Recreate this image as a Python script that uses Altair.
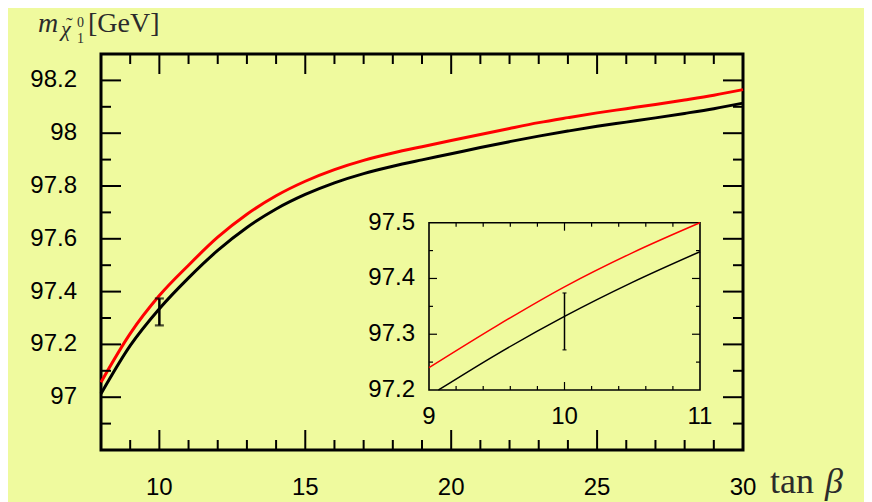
import altair as alt
import pandas as pd

# ---------------- data ----------------
tan_beta = [8, 9, 10, 11, 12, 13, 14, 15, 16, 17, 18, 19, 20, 21, 22, 23, 24, 25, 26, 27, 28, 29, 30]
m_black = [97.013, 97.195, 97.335, 97.452, 97.556, 97.643, 97.713, 97.768, 97.812, 97.847, 97.875,
           97.899, 97.922, 97.946, 97.968, 97.989, 98.008, 98.026, 98.042, 98.058, 98.075, 98.093, 98.114]
m_red = [97.057, 97.241, 97.385, 97.500, 97.606, 97.693, 97.763, 97.818, 97.862, 97.897, 97.925,
         97.949, 97.972, 97.995, 98.018, 98.040, 98.059, 98.077, 98.093, 98.109, 98.126, 98.144, 98.165]

inset_x_black = [9.07, 9.5, 10, 10.5, 11]
inset_black = [97.2, 97.264, 97.332, 97.393, 97.448]
inset_x_red = [9, 9.5, 10, 10.5, 11]
inset_red = [97.24, 97.315, 97.385, 97.446, 97.50]

err_x = [10]
err_lo = [97.272]
err_hi = [97.374]

main_x_domain = [8, 30]
main_y_domain = [96.8, 98.3]
main_x_labels = [10, 15, 20, 25, 30]
main_x_text = ["10", "15", "20", "25", "30"]
main_y_labels = [97, 97.2, 97.4, 97.6, 97.8, 98, 98.2]
main_y_text = ["97", "97.2", "97.4", "97.6", "97.8", "98", "98.2"]
main_x_major = [10, 15, 20, 25]
main_x_minor = [9, 11, 12, 13, 14, 16, 17, 18, 19, 21, 22, 23, 24, 26, 27, 28, 29]
main_y_major = [97, 97.2, 97.4, 97.6, 97.8, 98, 98.2]
main_y_minor = [96.9, 97.1, 97.3, 97.5, 97.7, 97.9, 98.1]

inset_x_domain = [9, 11]
inset_y_domain = [97.2, 97.5]
inset_x_labels = [9, 10, 11]
inset_x_text = ["9", "10", "11"]
inset_y_labels = [97.2, 97.3, 97.4, 97.5]
inset_y_text = ["97.2", "97.3", "97.4", "97.5"]
inset_x_major = [10]
inset_x_minor = [9.2, 9.4, 9.6, 9.8, 10.2, 10.4, 10.6, 10.8]
inset_y_major = [97.3, 97.4]
inset_y_minor = [97.25, 97.35, 97.45]

# ---------------- layout (pixels) ----------------
W, H = 642, 396
IX0, IX1 = 328, 599          # inset x pixel range inside plot area
IYB, IYT = 336, 168.7        # inset y pixel range (bottom, top)
BG = "#effa9e"
FONT = "Liberation Sans"
SERIF = "Liberation Serif"

xs_main = alt.Scale(domain=main_x_domain, nice=False, zero=False)
ys_main = alt.Scale(domain=main_y_domain, nice=False, zero=False)
xs_in = alt.Scale(domain=inset_x_domain, range=[IX0, IX1], nice=False, zero=False)
ys_in = alt.Scale(domain=inset_y_domain, range=[IYB, IYT], nice=False, zero=False)


def X(field, sc):
    return alt.X(field, scale=sc, axis=None)


def Y(field, sc):
    return alt.Y(field, scale=sc, axis=None)


def xticks(vals, xs, base, length, width):
    df = pd.DataFrame({"v": vals})
    return alt.Chart(df).mark_rule(color="black", strokeWidth=width).encode(
        x=X("v:Q", xs), y=alt.value(base), y2=alt.value(base + length))


def yticks(vals, ys, base, length, width):
    df = pd.DataFrame({"v": vals})
    return alt.Chart(df).mark_rule(color="black", strokeWidth=width).encode(
        y=Y("v:Q", ys), x=alt.value(base), x2=alt.value(base + length))


def xlabels(vals, texts, xs, ypix):
    df = pd.DataFrame({"v": vals, "t": texts})
    return alt.Chart(df).mark_text(font=FONT, fontSize=24, color="black", align="center",
                                   baseline="top").encode(
        x=X("v:Q", xs), y=alt.value(ypix), text="t:N")


def ylabels(vals, texts, ys, xpix):
    df = pd.DataFrame({"v": vals, "t": texts})
    return alt.Chart(df).mark_text(font=FONT, fontSize=24, color="black", align="right",
                                   baseline="middle").encode(
        y=Y("v:Q", ys), x=alt.value(xpix), text="t:N")


def label(txt, x, y, size, style="normal", font=SERIF, color="#2b2b2b"):
    return alt.Chart(pd.DataFrame({"t": [txt]})).mark_text(
        font=font, fontSize=size, fontStyle=style, color=color, align="left",
        baseline="alphabetic").encode(text="t:N", x=alt.value(x), y=alt.value(y))


# ---------------- main panel ----------------
main_df = pd.DataFrame({"x": tan_beta, "black": m_black, "red": m_red})
err_df = pd.DataFrame({"x": err_x, "lo": err_lo, "hi": err_hi})

red_main = alt.Chart(main_df).mark_line(color="#ff0000", strokeWidth=3, interpolate="monotone").encode(
    x=X("x:Q", xs_main), y=Y("red:Q", ys_main))
black_main = alt.Chart(main_df).mark_line(color="black", strokeWidth=3, interpolate="monotone").encode(
    x=X("x:Q", xs_main), y=Y("black:Q", ys_main))
err_main = alt.Chart(err_df).mark_rule(color="black", strokeWidth=2.5).encode(
    x=X("x:Q", xs_main), y=Y("lo:Q", ys_main), y2="hi:Q")
cap_lo = alt.Chart(err_df).mark_tick(color="black", orient="horizontal", size=9, thickness=2.2).encode(
    x=X("x:Q", xs_main), y=Y("lo:Q", ys_main))
cap_hi = alt.Chart(err_df).mark_tick(color="black", orient="horizontal", size=9, thickness=2.2).encode(
    x=X("x:Q", xs_main), y=Y("hi:Q", ys_main))

main_ticks = [
    xticks(main_x_major, xs_main, H, -20, 2), xticks(main_x_minor, xs_main, H, -10, 2),
    xticks(main_x_major, xs_main, 0, 20, 2), xticks(main_x_minor, xs_main, 0, 10, 2),
    yticks(main_y_major, ys_main, 0, 20, 2), yticks(main_y_minor, ys_main, 0, 10, 2),
    yticks(main_y_major, ys_main, W, -20, 2), yticks(main_y_minor, ys_main, W, -10, 2),
]
main_labels = [
    xlabels(main_x_labels, main_x_text, xs_main, H + 26),
    ylabels(main_y_labels, main_y_text, ys_main, -24),
]

titles = [
    label("m", -63, -22, 28, "italic"),
    label("\u03c7", -40, -18, 22, "italic"),
    label("\u02dc", -35, -22, 20),
    label("0", -24, -27, 14),
    label("1", -24, -11, 14),
    label("[GeV]", -13, -22, 28),
    label("tan", 669, 439, 36),
    label("\u03b2", 724, 439, 36, "italic"),
]

main_layer = alt.layer(red_main, black_main, err_main, cap_lo, cap_hi,
                       *main_ticks, *main_labels, *titles)

# ---------------- inset ----------------
in_red_df = pd.DataFrame({"x": inset_x_red, "y": inset_red})
in_black_df = pd.DataFrame({"x": inset_x_black, "y": inset_black})
frame_df = pd.DataFrame({"x": [inset_x_domain[0]], "x2": [inset_x_domain[1]],
                         "y": [inset_y_domain[0]], "y2": [inset_y_domain[1]]})

in_frame = alt.Chart(frame_df).mark_rect(fillOpacity=0, stroke="black", strokeWidth=1.6).encode(
    x=X("x:Q", xs_in), x2="x2:Q", y=Y("y:Q", ys_in), y2="y2:Q")
in_red = alt.Chart(in_red_df).mark_line(color="#ff0000", strokeWidth=1.5, interpolate="monotone").encode(
    x=X("x:Q", xs_in), y=Y("y:Q", ys_in))
in_black = alt.Chart(in_black_df).mark_line(color="black", strokeWidth=1.5, interpolate="monotone").encode(
    x=X("x:Q", xs_in), y=Y("y:Q", ys_in))
in_err = alt.Chart(err_df).mark_rule(color="black", strokeWidth=1.5).encode(
    x=X("x:Q", xs_in), y=Y("lo:Q", ys_in), y2="hi:Q")
in_cap_lo = alt.Chart(err_df).mark_tick(color="black", orient="horizontal", size=4, thickness=1.5).encode(
    x=X("x:Q", xs_in), y=Y("lo:Q", ys_in))
in_cap_hi = alt.Chart(err_df).mark_tick(color="black", orient="horizontal", size=4, thickness=1.5).encode(
    x=X("x:Q", xs_in), y=Y("hi:Q", ys_in))

in_ticks = [
    xticks(inset_x_major, xs_in, IYB, -8, 1.2), xticks(inset_x_minor, xs_in, IYB, -4, 1.2),
    xticks(inset_x_major, xs_in, IYT, 8, 1.2), xticks(inset_x_minor, xs_in, IYT, 4, 1.2),
    yticks(inset_y_major, ys_in, IX0, 8, 1.2), yticks(inset_y_minor, ys_in, IX0, 4, 1.2),
    yticks(inset_y_major, ys_in, IX1, -8, 1.2), yticks(inset_y_minor, ys_in, IX1, -4, 1.2),
]
in_labels = [
    xlabels(inset_x_labels, inset_x_text, xs_in, IYB + 15),
    ylabels(inset_y_labels, inset_y_text, ys_in, IX0 - 14),
]

inset_layer = alt.layer(in_frame, in_red, in_black, in_err, in_cap_lo, in_cap_hi,
                        *in_ticks, *in_labels)

chart = alt.layer(main_layer, inset_layer).resolve_scale(
    x="independent", y="independent"
).properties(
    width=W, height=H, autosize="none",
    padding={"left": 93, "top": 46, "right": 121, "bottom": 52},
    background=BG,
).configure_view(stroke="black", strokeWidth=3)

chart.save("out.html", embed_options={"renderer": "svg", "actions": False})
